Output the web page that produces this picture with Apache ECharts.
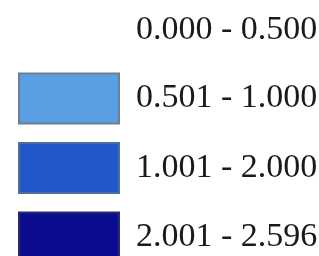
<!DOCTYPE html>
<html>
<head>
<meta charset="utf-8">
<script src="https://cdn.jsdelivr.net/npm/echarts@6/dist/echarts.min.js"></script>
<style>
    html, body { margin: 0; padding: 0; background: #fff; }
    #chart { width: 319px; height: 256px; }
</style>
</head>
<body>
<div id="chart"></div>
<script>
// class breaks of the map legend
var classLabels = ['0.000 - 0.500', '0.501 - 1.000', '1.001 - 2.000', '2.001 - 2.596'];
var classColors = ['#ffffff', '#5a9fe2', '#2157c8', '#0b0b8d'];
var classBorders = ['#ffffff', '#6b7f95', '#4f6f9f', '#2a2a70'];

var series = [];
for (var i = 0; i < classLabels.length; i++) {
    series.push({
        name: classLabels[i],
        type: 'bar',
        data: [],
        itemStyle: {
            color: classColors[i],
            borderColor: classBorders[i],
            borderWidth: i === 0 ? 0 : 1
        }
    });
}

var myChart = echarts.init(document.getElementById('chart'));
var option = {
    animation: false,
    grid: { show: false, left: 0, right: 0, top: 0, bottom: 0 },
    xAxis: { type: 'category', show: false },
    yAxis: { type: 'value', show: false },
    legend: {
        orient: 'vertical',
        left: 18,
        top: 5,
        height: 400,
        padding: 0,
        icon: 'rect',
        itemWidth: 100,
        itemHeight: 50,
        itemGap: 17.5,
        selectedMode: false,
        textStyle: {
            fontFamily: 'Liberation Serif',
            fontSize: 34,
            lineHeight: 36,
            color: '#1a1a1a',
            padding: [0, 0, 0, 12]
        },
        data: classLabels
    },
    series: series
};
myChart.setOption(option, true);
</script>
</body>
</html>
